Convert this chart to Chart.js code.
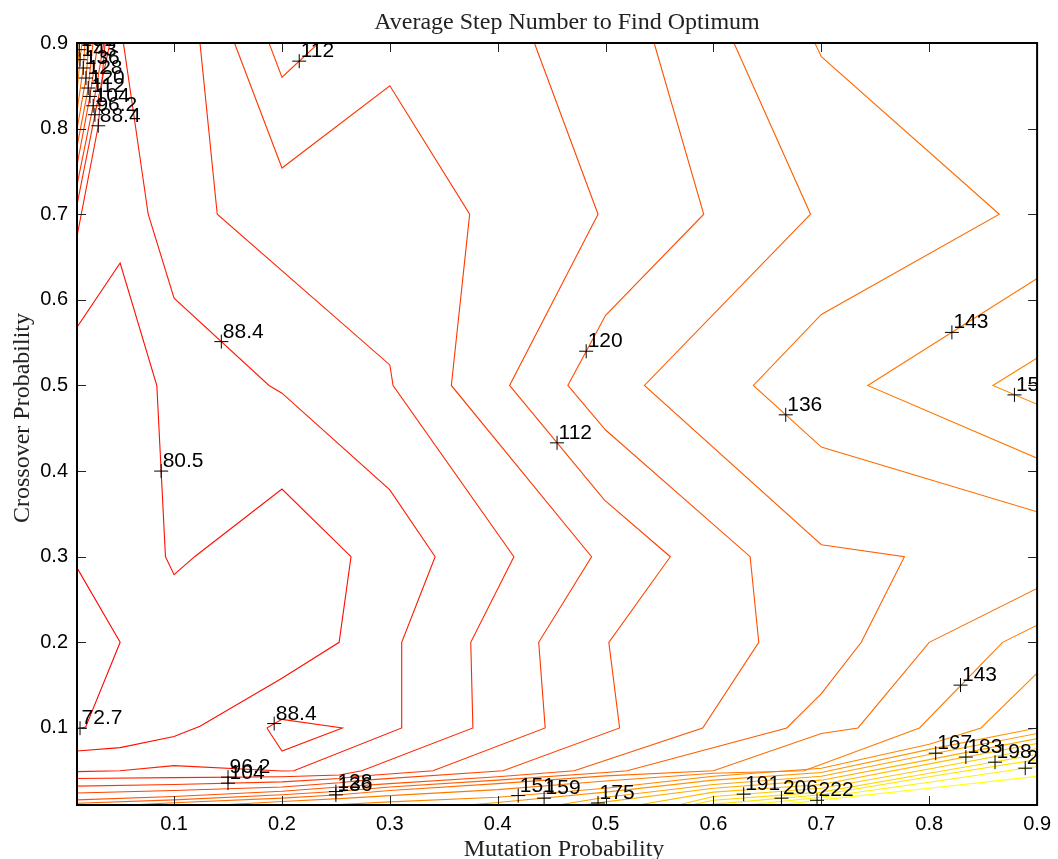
<!DOCTYPE html>
<html><head><meta charset="utf-8">
<script src="https://cdn.jsdelivr.net/npm/chart.js@4.4.1/dist/chart.umd.min.js"></script>
<style>html,body{margin:0;padding:0;background:#fff;}</style>
</head><body>
<canvas id="c" width="1058" height="859"></canvas>
<script>
// ---- chart values ----
const levels = [72.7, 80.5, 88.4, 96.2, 104, 112, 120, 128, 136, 143, 151, 159, 167, 175, 183, 191, 198, 206, 214, 222];
const levelText = ['72.7','80.5','88.4','96.2','104','112','120','128','136','143','151','159','167','175','183','191','198','206','214','222'];
const xTickValues = [0.1, 0.2, 0.3, 0.4, 0.5, 0.6, 0.7, 0.8, 0.9];
const yTickValues = [0.1, 0.2, 0.3, 0.4, 0.5, 0.6, 0.7, 0.8, 0.9];

// contour lines [mutation, crossover]
const c72_7 = [[0.01,0.287],[0.05,0.2],[0.018,0.101],[0.01,0.099]];
const c80_5 = [[0.01,0.568],[0.05,0.643],[0.084,0.5],[0.088,0.4],[0.092,0.3],[0.1,0.279],[0.119,0.3],[0.2,0.379],[0.264,0.3],[0.253,0.2],[0.2,0.158],[0.124,0.102],[0.1,0.09],[0.05,0.077],[0.01,0.073]];
const c88_4a = [[0.053,0.9],[0.076,0.7],[0.1,0.602],[0.188,0.5],[0.2,0.491],[0.3,0.378],[0.342,0.3],[0.311,0.2],[0.311,0.1],[0.211,0.05],[0.2,0.0497],[0.1,0.056],[0.05,0.05],[0.01,0.049]];
const c88_4b = [[0.186,0.1],[0.2,0.11],[0.256,0.1],[0.2,0.073],[0.186,0.1]];
const c88_4c = [[0.036,0.9],[0.0297,0.803],[0.01,0.674]];
const c96_2a = [[0.124,0.9],[0.14,0.7],[0.3,0.524],[0.303,0.5],[0.415,0.3],[0.375,0.2],[0.377,0.1],[0.274,0.05],[0.253,0.045],[0.2,0.043],[0.1,0.042],[0.01,0.041]];
const c96_2b = [[0.0405,0.9],[0.0266,0.816],[0.01,0.711]];
const c104a = [[0.156,0.9],[0.2,0.754],[0.3,0.85],[0.374,0.7],[0.357,0.5],[0.487,0.3],[0.438,0.2],[0.444,0.1],[0.34,0.05],[0.271,0.0435],[0.253,0.041],[0.2,0.037],[0.1,0.034],[0.01,0.032]];
const c104b = [[0.0349,0.9],[0.025,0.827],[0.01,0.734]];
const c112a = [[0.188,0.9],[0.2,0.86],[0.234,0.9]];
const c112b = [[0.434,0.9],[0.493,0.7],[0.411,0.5],[0.499,0.366],[0.56,0.3],[0.503,0.2],[0.513,0.1],[0.405,0.05],[0.277,0.039],[0.253,0.036],[0.2,0.031],[0.1,0.027],[0.01,0.024]];
const c112c = [[0.0294,0.9],[0.022,0.838],[0.01,0.757]];
const c120a = [[0.545,0.9],[0.591,0.7],[0.5,0.582],[0.465,0.5],[0.5,0.448],[0.634,0.3],[0.642,0.2],[0.59,0.1],[0.471,0.05],[0.4,0.043],[0.3,0.035],[0.253,0.031],[0.2,0.026],[0.1,0.02],[0.01,0.016]];
const c120b = [[0.0248,0.9],[0.0204,0.847],[0.01,0.779]];
const c128a = [[0.619,0.9],[0.69,0.7],[0.536,0.5],[0.7,0.314],[0.777,0.3],[0.737,0.2],[0.7,0.14],[0.668,0.1],[0.52,0.05],[0.5,0.048],[0.4,0.039],[0.3,0.031],[0.253,0.026],[0.2,0.022],[0.1,0.016],[0.01,0.012]];
const c128b = [[0.0211,0.9],[0.0183,0.859],[0.01,0.799]];
const c136a = [[0.694,0.9],[0.7,0.884],[0.865,0.7],[0.7,0.583],[0.637,0.5],[0.7,0.428],[0.9,0.3525]];
const c136b = [[0.9,0.263],[0.8,0.2],[0.734,0.1],[0.7,0.0935],[0.6,0.05],[0.5,0.044],[0.4,0.035],[0.3,0.027],[0.253,0.022],[0.2,0.018],[0.1,0.0126],[0.059,0.01]];
const c136c = [[0.0174,0.9],[0.0158,0.871],[0.01,0.82]];
const c143a = [[0.9,0.625],[0.743,0.5],[0.9,0.415]];
const c143b = [[0.9,0.22],[0.868,0.2],[0.791,0.1],[0.684,0.05],[0.6,0.047],[0.5,0.038],[0.4,0.028],[0.3,0.021],[0.253,0.0175],[0.2,0.014],[0.142,0.01]];
const c143c = [[0.0146,0.9],[0.0128,0.8805],[0.01,0.843]];
const c151a = [[0.9,0.532],[0.859,0.5],[0.9,0.478]];
const c151b = [[0.9,0.164],[0.848,0.1],[0.8,0.081],[0.7,0.053],[0.6,0.0435],[0.5,0.0295],[0.4,0.019],[0.3,0.0137],[0.244,0.01]];
const c151c = [[0.0123,0.9],[0.0121,0.892],[0.01,0.867]];
const c159 = [[0.9,0.1],[0.8,0.075],[0.7,0.048],[0.6,0.039],[0.5,0.025],[0.4,0.013],[0.373,0.01]];
const c167 = [[0.9,0.0935],[0.8,0.069],[0.7,0.0435],[0.6,0.034],[0.5,0.019],[0.456,0.01]];
const c175 = [[0.9,0.0876],[0.8,0.063],[0.7,0.039],[0.6,0.0295],[0.5,0.0137],[0.479,0.01]];
const c183 = [[0.9,0.0818],[0.8,0.058],[0.7,0.034],[0.6,0.025],[0.53,0.01]];
const c191 = [[0.9,0.076],[0.8,0.052],[0.7,0.0295],[0.6,0.02],[0.567,0.01]];
const c198 = [[0.9,0.069],[0.8,0.047],[0.7,0.025],[0.6,0.0155],[0.58,0.01]];
const c206 = [[0.9,0.063],[0.8,0.043],[0.7,0.022],[0.6,0.011],[0.594,0.01]];
const c214 = [[0.9,0.055],[0.8,0.0365],[0.7,0.019],[0.63,0.01]];
const c222 = [[0.9,0.0435],[0.8,0.0295],[0.7,0.016],[0.66,0.01]];

// contour label markers
const markerX = [0.0128,0.088,0.1438,0.1928,0.0297,0.15,0.0266,0.15,0.025,0.216,0.455,0.022,0.482,0.0204,0.25,0.0183,0.667,0.25,0.0158,0.821,0.829,0.0128,0.879,0.419,0.0121,0.443,0.806,0.493,0.834,0.628,0.861,0.663,0.889,0.696];
const markerY = [0.0997,0.4,0.5512,0.1051,0.8033,0.0425,0.8162,0.0355,0.8267,0.8788,0.433,0.8376,0.54,0.8474,0.0257,0.8591,0.4657,0.0218,0.8708,0.562,0.15,0.8805,0.489,0.021,0.8922,0.018,0.0705,0.0124,0.066,0.0227,0.06,0.018,0.053,0.0155];
const markerLevel = [0,1,2,2,2,3,3,4,4,5,5,5,6,6,7,7,8,8,8,9,9,9,10,10,10,11,12,13,14,15,16,17,18,19];

// ---- build ----
const pieces = [
  [0,c72_7],[1,c80_5],[2,c88_4a],[2,c88_4b],[2,c88_4c],[3,c96_2a],[3,c96_2b],
  [4,c104a],[4,c104b],[5,c112a],[5,c112b],[5,c112c],[6,c120a],[6,c120b],
  [7,c128a],[7,c128b],[8,c136a],[8,c136b],[8,c136c],[9,c143a],[9,c143b],[9,c143c],
  [10,c151a],[10,c151b],[10,c151c],[11,c159],[12,c167],[13,c175],[14,c183],
  [15,c191],[16,c198],[17,c206],[18,c214],[19,c222]
];
function levelColor(i){ return 'rgb(255,' + Math.round(255 * i / (levels.length - 1)) + ',0)'; }

const datasets = [{
  label: 'labels',
  data: markerX.map((x, i) => ({x: x, y: markerY[i]})),
  showLine: false, pointStyle: 'cross', pointRadius: 7, pointBorderColor: '#000',
  pointBorderWidth: 1, borderColor: '#000', order: -1
}];
pieces.forEach(([li, pts]) => {
  datasets.push({
    label: levelText[li],
    data: pts.map(p => ({x: p[0], y: p[1]})),
    showLine: true, pointRadius: 0, borderWidth: 1.1, borderColor: levelColor(li),
    fill: false, tension: 0, order: 1
  });
});

const framePlugin = {
  id: 'frame',
  afterDatasetsDraw(chart) {
    const {ctx, chartArea: a, scales: {x, y}} = chart;
    ctx.save();
    ctx.beginPath(); ctx.rect(a.left, a.top, a.right - a.left, a.bottom - a.top); ctx.clip();
    ctx.font = '21px "Liberation Sans", Arial, sans-serif';
    ctx.fillStyle = '#000'; ctx.textAlign = 'left'; ctx.textBaseline = 'alphabetic';
    markerX.forEach((mx, i) => {
      ctx.fillText(levelText[markerLevel[i]], x.getPixelForValue(mx) + 1.5, y.getPixelForValue(markerY[i]) - 4);
    });
    ctx.restore();
  },
  afterDraw(chart) {
    const {ctx, chartArea: a, scales: {x, y}} = chart;
    ctx.save();
    // inward ticks
    ctx.strokeStyle = '#222'; ctx.lineWidth = 1;
    xTickValues.forEach(v => {
      const p = Math.round(x.getPixelForValue(v)) + 0.5;
      ctx.beginPath(); ctx.moveTo(p, a.bottom); ctx.lineTo(p, a.bottom - 9);
      ctx.moveTo(p, a.top); ctx.lineTo(p, a.top + 9); ctx.stroke();
    });
    yTickValues.forEach(v => {
      const p = Math.round(y.getPixelForValue(v)) + 0.5;
      ctx.beginPath(); ctx.moveTo(a.left, p); ctx.lineTo(a.left + 9, p);
      ctx.moveTo(a.right, p); ctx.lineTo(a.right - 9, p); ctx.stroke();
    });
    // box
    ctx.strokeStyle = '#000'; ctx.lineWidth = 2;
    ctx.strokeRect(a.left, a.top, a.right - a.left, a.bottom - a.top);
    // titles
    ctx.fillStyle = '#222';
    ctx.font = '24px "Liberation Serif", "Times New Roman", serif';
    ctx.textAlign = 'center'; ctx.textBaseline = 'alphabetic';
    ctx.fillText('Average Step Number to Find Optimum', 567, 29);
    ctx.fillText('Mutation Probability', 564, 856);
    ctx.translate(29, 418); ctx.rotate(-Math.PI / 2);
    ctx.fillText('Crossover Probability', 0, 0);
    ctx.restore();
  }
};

const tickFont = {family: '"Liberation Sans", Arial, sans-serif', size: 20};
new Chart(document.getElementById('c'), {
  type: 'scatter',
  data: {datasets: datasets},
  options: {
    responsive: false, animation: false, devicePixelRatio: 1,
    layout: {padding: {top: 43, right: 17, left: 0, bottom: 0}},
    plugins: {legend: {display: false}, tooltip: {enabled: false}, title: {display: false}},
    scales: {
      x: {
        type: 'linear', min: 0.01, max: 0.9,
        afterBuildTicks: s => { s.ticks = xTickValues.map(v => ({value: v})); },
        afterFit: s => { s.height = 54; },
        grid: {display: false, drawTicks: false}, border: {display: false},
        ticks: {font: tickFont, color: '#000', padding: 7, maxRotation: 0, autoSkip: false, callback: v => String(v)}
      },
      y: {
        type: 'linear', min: 0.01, max: 0.9,
        afterBuildTicks: s => { s.ticks = yTickValues.map(v => ({value: v})); },
        afterFit: s => { s.width = 77; },
        grid: {display: false, drawTicks: false}, border: {display: false},
        ticks: {font: tickFont, color: '#000', padding: 9, autoSkip: false, callback: v => String(v)}
      }
    }
  },
  plugins: [framePlugin]
});
</script>
</body></html>
